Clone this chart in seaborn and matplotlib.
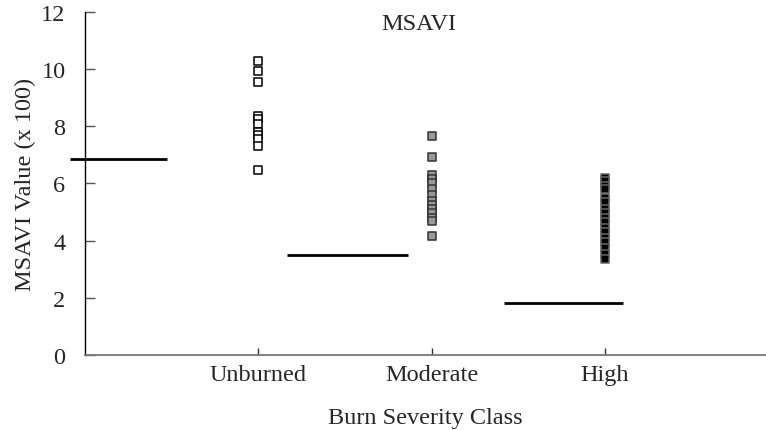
import matplotlib
matplotlib.use("Agg")
import matplotlib.pyplot as plt
import seaborn as sns
import pandas as pd

categories = ["Unburned", "Moderate", "High"]
unburned_vals = [10.3, 9.95, 9.55, 8.35, 8.27, 8.08, 7.8, 7.69, 7.57, 7.3, 6.48]
moderate_vals = [7.67, 6.91, 6.3, 6.15, 6.0, 5.8, 5.6, 5.4, 5.25, 5.1, 4.95, 4.8, 4.7, 4.17]
high_vals = [6.18, 6.07, 5.9, 5.8, 5.5, 5.35, 5.1, 4.95, 4.8, 4.65, 4.45, 4.3, 4.1, 3.95,
             3.75, 3.55, 3.35]
threshold_vals = [6.85, 3.51, 1.83]
# horizontal extent of each threshold line, in category-axis units
threshold_start = [-1.087, 0.166, 1.418]
threshold_end = [-0.527, 0.864, 2.104]

face_colors = ["white", "#999999", "black"]
edge_colors = ["black", "#333333", "#666666"]

sns.set_style("white")
plt.rcParams["font.family"] = ["Liberation Serif", "DejaVu Serif"]

fig = plt.figure(figsize=(7.66, 4.31), dpi=100)
ax = fig.add_axes([0.111, 0.174, 0.889, 0.796])

series = [unburned_vals, moderate_vals, high_vals]
for cat, vals, fc, ec in zip(categories, series, face_colors, edge_colors):
    df = pd.DataFrame({"cls": [cat] * len(vals), "val": vals})
    sns.stripplot(data=df, x="cls", y="val", order=categories, jitter=False,
                  marker="s", size=6.2, color=fc, edgecolor=ec, linewidth=1.1,
                  ax=ax, zorder=3)

for yv, xs, xe in zip(threshold_vals, threshold_start, threshold_end):
    ax.plot([xs, xe], [yv, yv], color="black", lw=2, solid_capstyle="butt",
            clip_on=False, zorder=2)

ax.set_xlim(-1, 2.93)
ax.set_ylim(0, 12)
ax.set_yticks([0, 2, 4, 6, 8, 10, 12])
ax.set_xticks([0, 1, 2])
ax.set_xticklabels(categories)

for side in ["top", "right"]:
    ax.spines[side].set_visible(False)
ax.spines["left"].set_color("black")
ax.spines["left"].set_linewidth(1.0)
ax.spines["bottom"].set_color("#777777")
ax.spines["bottom"].set_linewidth(1.3)

ax.tick_params(axis="y", direction="in", length=7, width=1, color="#555555",
               pad=14, labelsize=17.5, left=True)
ax.tick_params(axis="x", direction="in", length=5, width=1, color="#333333",
               pad=6.5, labelsize=17.5, bottom=True)

ax.set_xlabel("Burn Severity Class", fontsize=17.5, labelpad=16)
ax.set_ylabel("MSAVI Value (x 100)", fontsize=17.5, labelpad=4)
ax.text(0.49, 0.965, "MSAVI", transform=ax.transAxes, ha="center", va="center",
        fontsize=17.5)

fig.savefig("out.png", dpi=100)
